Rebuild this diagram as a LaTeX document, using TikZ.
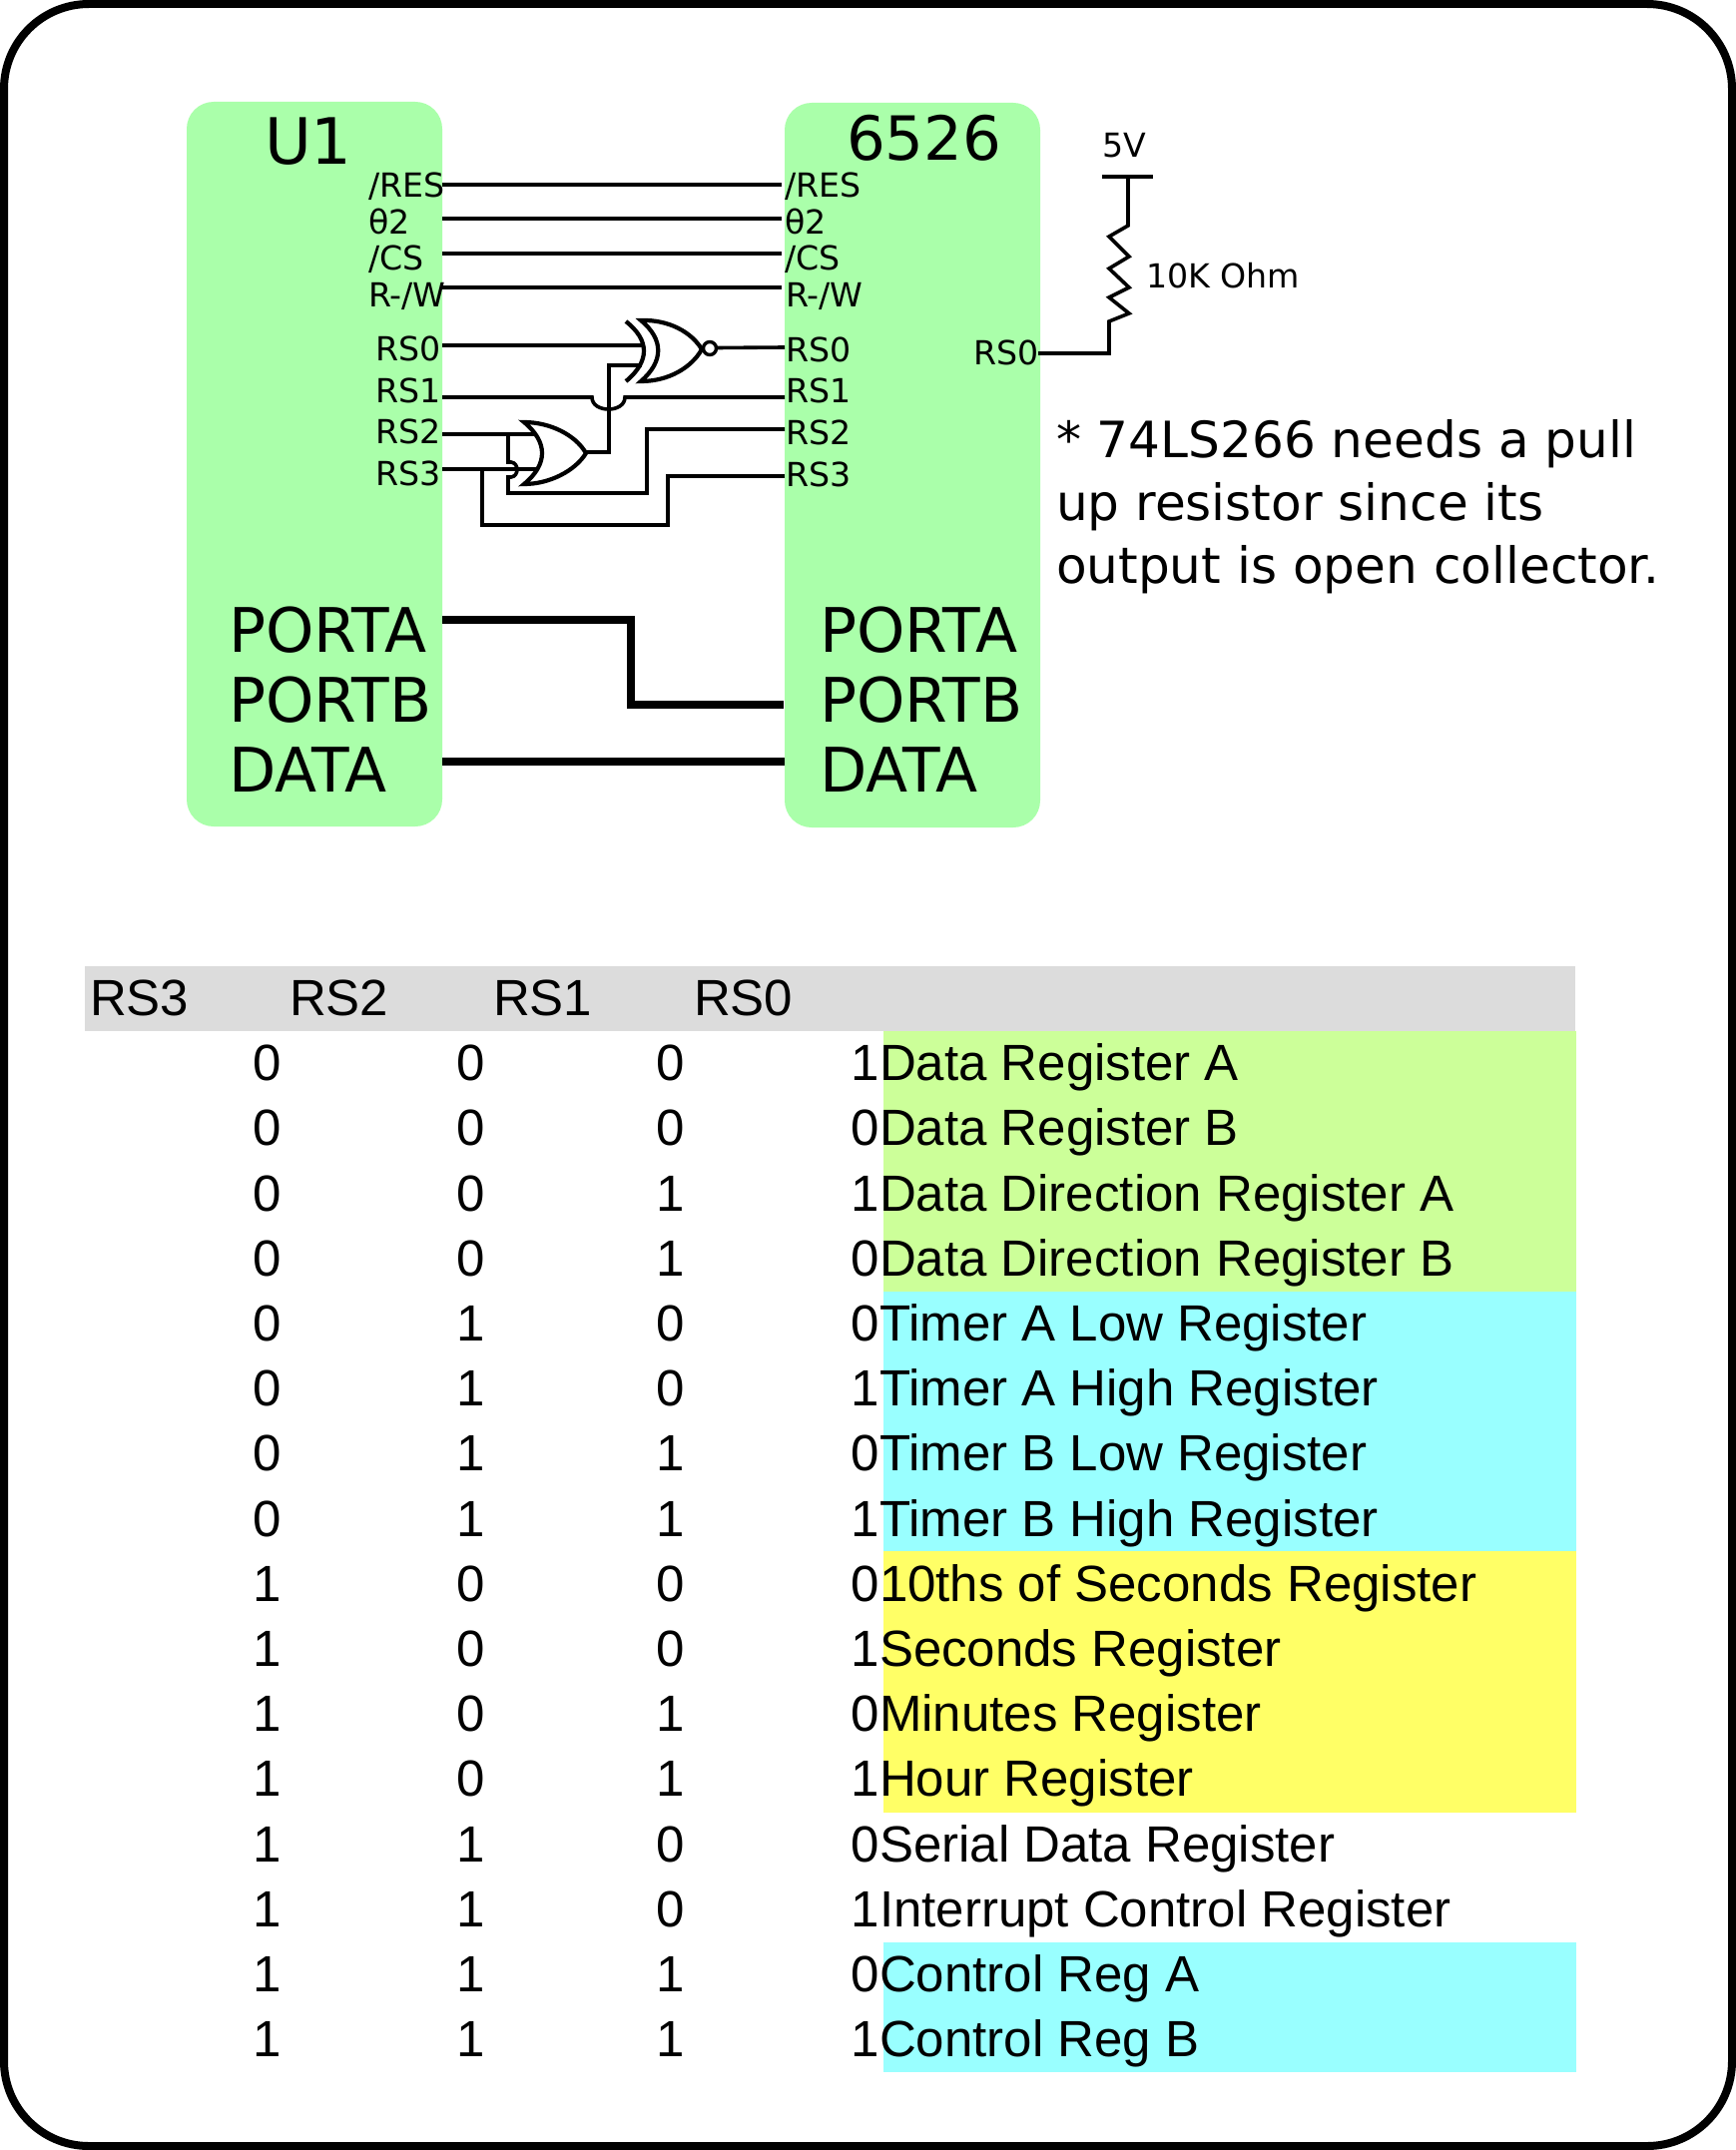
\documentclass[tikz,border=0pt]{standalone}
\usepackage{fontspec}
\setmainfont{DejaVu Sans}
\newfontfamily\tablefont{Liberation Sans}
\newcommand{\fsz}[1]{\fontsize{#1}{#1}\selectfont}
\tikzset{
  chip/.style={fill=chipgreen, rounded corners=27pt, inner sep=0pt, outer sep=0pt, draw=none},
  lbl/.style={anchor=base west, inner sep=0pt, outer sep=0pt, font=\fsz{33.2}},
  title/.style={anchor=base west, inner sep=0pt, outer sep=0pt, font=\fsz{61}},
  port/.style={anchor=base west, inner sep=0pt, outer sep=0pt, font=\fsz{61.5}},
  note/.style={anchor=base west, inner sep=0pt, outer sep=0pt, font=\fsz{50.1}},
  wire/.style={line width=3.6pt, miter limit=10},
  bus/.style={line width=7.5pt},
  gate/.style={line width=4.2pt, fill=white, line join=miter},
  hdr/.style={anchor=base west, inner sep=0pt, outer sep=0pt, font=\tablefont\fsz{51}},
  cell/.style={anchor=base east, inner sep=0pt, outer sep=0pt, font=\tablefont\fsz{51}},
  reg/.style={anchor=base west, inner sep=0pt, outer sep=0pt, font=\tablefont\fsz{51}},
}
\definecolor{chipgreen}{HTML}{AAFFAA}
\definecolor{hdrgray}{HTML}{DCDCDC}
\definecolor{bandgreen}{HTML}{CCFF99}
\definecolor{bandcyan}{HTML}{99FFFF}
\definecolor{bandyellow}{HTML}{FFFF66}
\begin{document}
\begin{tikzpicture}[x=1pt,y=-1pt]
\useasboundingbox (0,0) rectangle (1739,2154);
\draw[line width=8pt, rounded corners=85pt] (4,4) rectangle (1735,2150);

% chips
\node[chip, minimum width=256pt, minimum height=726pt] (u1) at (315,465) {};
\node[chip, minimum width=256pt, minimum height=726pt] (v1) at (914,466) {};

% left labels
\node[title, font=\fsz{64}] (u1t) at (265,165) {U1};
\node[lbl] (lres) at (369,197) {/RES};
\node[lbl] (lphi) at (369,234) {θ2};
\node[lbl] (lcs) at (369,270) {/CS};
\node[lbl] (lrw) at (369,307) {R-/W};
\node[lbl] (lrs0) at (376,361) {RS0};
\node[lbl] (lrs1) at (376,403) {RS1};
\node[lbl] (lrs2) at (376,444) {RS2};
\node[lbl] (lrs3) at (376,486) {RS3};
\node[port] (lpa) at (229,653) {PORTA};
\node[port] (lpb) at (229,723) {PORTB};
\node[port] (ld) at (229,793) {DATA};

% right labels
\node[title] (v1t) at (848,161) {6526};
\node[lbl] (rres) at (786,197) {/RES};
\node[lbl] (rphi) at (786,234) {θ2};
\node[lbl] (rcs) at (786,270) {/CS};
\node[lbl] (rrw) at (787,307) {R-/W};
\node[lbl] (rrs0) at (787,362) {RS0};
\node[lbl] (rrs1) at (787,403) {RS1};
\node[lbl] (rrs2) at (787,445) {RS2};
\node[lbl] (rrs3) at (787,487) {RS3};
\node[port] (rpa) at (821,653) {PORTA};
\node[port] (rpb) at (821,723) {PORTB};
\node[port] (rd) at (821,793) {DATA};
\node[lbl] (oRS) at (975,365) {RS0};

% pin coordinates
\coordinate (a1) at (443,185); \coordinate (b1) at (783,185);
\coordinate (a2) at (443,219); \coordinate (b2) at (783,219);
\coordinate (a3) at (443,254); \coordinate (b3) at (783,254);
\coordinate (a4) at (443,288); \coordinate (b4) at (783,288);
\coordinate (a5) at (443,346); \coordinate (x1in) at (644,346);
\coordinate (a6) at (443,398); \coordinate (b6) at (786,398);
\coordinate (a7) at (443,435); \coordinate (o1in) at (537,435);
\coordinate (a8) at (443,470); \coordinate (o2in) at (539,470);
\coordinate (b5) at (786,348); \coordinate (b7) at (786,430); \coordinate (b8) at (786,477);
\coordinate (oout) at (587,453); \coordinate (x2in) at (643,366);
\coordinate (xout) at (717,348.5);
\coordinate (pa) at (443,621); \coordinate (pb) at (785,706);
\coordinate (da) at (443,763); \coordinate (db) at (786,763);
\coordinate (pin) at (1040,354); \coordinate (vcc) at (1130,177);
\coordinate (vl) at (1104,177); \coordinate (vr) at (1155,177);

% control bus
\draw[wire] (a1) -- (b1);
\draw[wire] (a2) -- (b2);
\draw[wire] (a3) -- (b3);
\draw[wire] (a4) -- (b4);

% RS wires
\draw[wire] (a5) -- (x1in);
\draw[wire] (a6) -- (593,398) .. controls (593,414) and (626,414) .. (626,398) -- (b6);
\draw[wire] (a7) -- (o1in);
\draw[wire] (a8) -- (o2in);
\draw[wire] (509,435) -- (509,463) -- (512,463) .. controls (520,464) and (520,477) .. (512,478) -- (509,478) -- (509,494) -- (648,494) -- (648,430) -- (b7);
\draw[wire] (483,470) -- (483,526) -- (669,526) -- (669,477) -- (b8);
\draw[wire] (oout) -- (610,453) -- (610,366) -- (x2in);
\draw[wire] (xout) -- (b5);

% OR gate
\draw[gate] (525,423) .. controls (550,423) and (576,435) .. (587,454) .. controls (576,472) and (550,485) .. (525,485) .. controls (549,465) and (549,443) .. cycle;
% XNOR gate
\draw[gate] (642,321) .. controls (670,320) and (693,333) .. (703,350) .. controls (693,368) and (670,382) .. (642,382) .. controls (665,362) and (665,340) .. cycle;
\draw[line width=4.2pt] (627,322) .. controls (651,341) and (651,362) .. (627,382);
\draw[line width=3.4pt, fill=white] (711,349) circle (6.5pt);

% buses
\draw[bus] (pa) -- (632,621) -- (632,706) -- (pb);
\draw[bus, line width=8pt] (da) -- (db);

% pull-up
\draw[line width=4pt] (vl) -- (vr);
\draw[wire] (vcc) -- (1130,226) -- (1111,237) -- (1131,257) -- (1111,269) -- (1131,288) -- (1111,298) -- (1131,314) -- (1111,322) -- (1111,354) -- (pin);
\node[lbl] (v5) at (1104,158) {5V};
\node[lbl] (ohm) at (1148,288) {10K Ohm};

% note
\node[note] (n1) at (1058,458) {* 74LS266 needs a pull};
\node[note] (n2) at (1058,521) {up resistor since its};
\node[note] (n3) at (1058,584) {output is open collector.};

% table background
\fill[hdrgray] (85,968) rectangle (1578,1033);
\fill[bandgreen] (885,1033) rectangle (1579,1294);
\fill[bandcyan] (885,1294) rectangle (1579,1554);
\fill[bandyellow] (885,1554) rectangle (1579,1816);
\fill[bandcyan] (885,1946) rectangle (1579,2076);

% header
\node[hdr] (h3) at (90,1017) {RS3};
\node[hdr] (h2) at (290,1017) {RS2};
\node[hdr] (h1) at (494,1017) {RS1};
\node[hdr] (h0) at (695,1017) {RS0};

% rows
\foreach \i/\d/\c/\b/\a/\t in {
0/0/0/0/1/Data Register A,
1/0/0/0/0/Data Register B,
2/0/0/1/1/Data Direction Register A,
3/0/0/1/0/Data Direction Register B,
4/0/1/0/0/Timer A Low Register,
5/0/1/0/1/Timer A High Register,
6/0/1/1/0/Timer B Low Register,
7/0/1/1/1/Timer B High Register,
8/1/0/0/0/10ths of Seconds Register,
9/1/0/0/1/Seconds Register,
10/1/0/1/0/Minutes Register,
11/1/0/1/1/Hour Register,
12/1/1/0/0/Serial Data Register,
13/1/1/0/1/Interrupt Control Register,
14/1/1/1/0/Control Reg A,
15/1/1/1/1/Control Reg B}{
  \pgfmathsetmacro{\yy}{1082.7+65.2*\i}
  \node[cell] (c3\i) at (282,\yy) {\d};
  \node[cell] (c2\i) at (486,\yy) {\c};
  \node[cell] (c1\i) at (686,\yy) {\b};
  \node[cell] (c0\i) at (881,\yy) {\a};
  \node[reg] (t\i) at (881,\yy) {\t};
}
\end{tikzpicture}
\end{document}
